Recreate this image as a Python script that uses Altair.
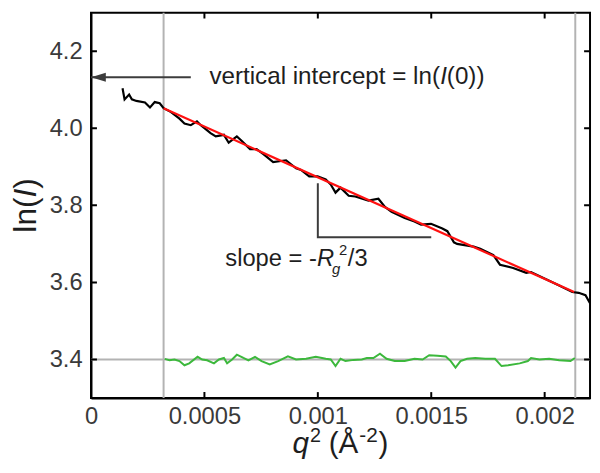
import altair as alt
import pandas as pd

FONT = "Liberation Sans"
TEXT_COLOR = "#1e1e1e"
ANNOT_COLOR = "#3c3c3c"

X_DOMAIN = [0, 0.0022]
Y_DOMAIN = [3.3, 4.3]
X_TICKS = [0, 0.0005, 0.001, 0.0015, 0.002]
Y_TICKS = [3.4, 3.6, 3.8, 4.0, 4.2]

BLACK_X = [0.000139, 0.000148, 0.000168, 0.000180, 0.000200, 0.000238, 0.000260, 0.000281,
           0.000303, 0.000320, 0.000353, 0.000390, 0.000412, 0.000440, 0.000467, 0.000484,
           0.000527, 0.000550, 0.000586, 0.000607, 0.000643, 0.000665, 0.000701, 0.000730,
           0.000760, 0.000803, 0.000860, 0.000904, 0.000926, 0.000962, 0.000999, 0.001035,
           0.001057, 0.001078, 0.001100, 0.001136, 0.001165, 0.001223, 0.001267, 0.001296,
           0.001325, 0.001383, 0.001426, 0.001455, 0.001499, 0.001549, 0.001571, 0.001600,
           0.001614, 0.001687, 0.001716, 0.001774, 0.001803, 0.001861, 0.001919, 0.001940,
           0.002006, 0.002064, 0.002122, 0.002150, 0.002180, 0.002200]
BLACK_Y = [4.104, 4.075, 4.0875, 4.075, 4.071, 4.067, 4.054, 4.068,
           4.065, 4.052, 4.042, 4.025, 4.0125, 4.008, 4.018, 4.008,
           3.9875, 3.979, 3.983, 3.9625, 3.979, 3.967, 3.946, 3.946,
           3.933, 3.9125, 3.917, 3.896, 3.892, 3.875, 3.875, 3.867,
           3.854, 3.833, 3.846, 3.825, 3.823, 3.8125, 3.817, 3.796,
           3.783, 3.767, 3.758, 3.750, 3.752, 3.740, 3.733, 3.704,
           3.700, 3.693, 3.6875, 3.671, 3.646, 3.6375, 3.625, 3.627,
           3.608, 3.592, 3.575, 3.573, 3.567, 3.546]

FIT_X = [0.00032, 0.00213]
FIT_Y = [4.052, 3.575]

GREEN_X = [0.000325, 0.000346, 0.000368, 0.000390, 0.000412, 0.000433, 0.000470, 0.000490,
           0.000512, 0.000542, 0.000564, 0.000586, 0.000600, 0.000622, 0.000643, 0.000672,
           0.000694, 0.000723, 0.000752, 0.000788, 0.000825, 0.000868, 0.000904, 0.000948,
           0.000991, 0.001035, 0.001057, 0.001078, 0.001100, 0.001122, 0.001158, 0.001194,
           0.001216, 0.001245, 0.001274, 0.001303, 0.001339, 0.001383, 0.001426, 0.001462,
           0.001491, 0.001527, 0.001564, 0.001586, 0.001607, 0.001629, 0.001658, 0.001694,
           0.001738, 0.001781, 0.001810, 0.001839, 0.001890, 0.001926, 0.001940, 0.001977,
           0.002020, 0.002064, 0.002114, 0.002133]
GREEN_Y = [3.4017, 3.398, 3.400, 3.396, 3.385, 3.390, 3.407, 3.400,
           3.398, 3.390, 3.400, 3.404, 3.390, 3.400, 3.4125, 3.404,
           3.398, 3.407, 3.396, 3.3875, 3.396, 3.408, 3.400, 3.402,
           3.407, 3.402, 3.400, 3.383, 3.402, 3.396, 3.399, 3.400,
           3.404, 3.404, 3.415, 3.402, 3.396, 3.396, 3.402, 3.400,
           3.411, 3.410, 3.408, 3.396, 3.379, 3.396, 3.402, 3.404,
           3.402, 3.402, 3.383, 3.385, 3.390, 3.396, 3.404, 3.400,
           3.402, 3.398, 3.396, 3.404]

GUIDE_X = [0.00032, 0.002135]
GUIDE_Y = [3.4]
ARROW_X = [0.0, 0.00044]
ARROW_Y = [4.1325, 4.1325]
TRI_X = [0.001, 0.001, 0.0015]
TRI_Y = [3.8575, 3.717, 3.717]
INTERCEPT_LABEL_XY = [0.000522, 4.1325]
SLOPE_LABEL_XY = [0.000592, 3.6425]

W, H = 505, 390

xscale = alt.Scale(domain=X_DOMAIN, nice=False, zero=False)
yscale = alt.Scale(domain=Y_DOMAIN, nice=False, zero=False)
xaxis = alt.Axis(values=X_TICKS, format=".4~f", title=None, grid=False, ticks=False, tickSize=0,
                 labelFontSize=24, labelPadding=7, labelColor="#3a3a3a", labelFont=FONT,
                 domainColor="black", domainWidth=2, labelFlush=False, labelOverlap=False)
yaxis = alt.Axis(values=Y_TICKS, format=".1f", title=None, grid=False, ticks=False, tickSize=0,
                 labelFontSize=24, labelPadding=9, labelColor="#3a3a3a", labelFont=FONT,
                 domainColor="black", domainWidth=2, labelFlush=False, labelOverlap=False)


def X(f):
    return alt.X(f, type="quantitative", scale=xscale, axis=xaxis)


def Y(f):
    return alt.Y(f, type="quantitative", scale=yscale, axis=yaxis)


layers = []

# gray guide lines
layers.append(alt.Chart(pd.DataFrame({"x": GUIDE_X})).mark_rule(color="#b3b3b3", strokeWidth=2)
              .encode(x=X("x")))
layers.append(alt.Chart(pd.DataFrame({"y": GUIDE_Y})).mark_rule(color="#b3b3b3", strokeWidth=2)
              .encode(y=Y("y")))

# data
layers.append(alt.Chart(pd.DataFrame({"x": BLACK_X, "y": BLACK_Y})).mark_line(
    color="black", strokeWidth=2.2, clip=True).encode(x=X("x"), y=Y("y")))
layers.append(alt.Chart(pd.DataFrame({"x": FIT_X, "y": FIT_Y})).mark_line(
    color="#ff1010", strokeWidth=2.2, clip=True).encode(x=X("x"), y=Y("y")))
layers.append(alt.Chart(pd.DataFrame({"x": GREEN_X, "y": GREEN_Y})).mark_line(
    color="#3cb83c", strokeWidth=2, clip=True).encode(x=X("x"), y=Y("y")))

# arrow
layers.append(alt.Chart(pd.DataFrame({"x": ARROW_X, "y": ARROW_Y})).mark_line(
    color=ANNOT_COLOR, strokeWidth=2).encode(x=X("x"), y=Y("y")))
layers.append(alt.Chart(pd.DataFrame({"x": ARROW_X[:1], "y": ARROW_Y[:1]})).mark_point(
    shape="M0,0 L2,-0.6 L2,0.6 Z", size=225, filled=True, opacity=1, color=ANNOT_COLOR,
    strokeWidth=0).encode(x=X("x"), y=Y("y")))

# slope triangle
layers.append(alt.Chart(pd.DataFrame({"x": TRI_X, "y": TRI_Y, "i": list(range(len(TRI_X)))}))
              .mark_line(color=ANNOT_COLOR, strokeWidth=2)
              .encode(x=X("x"), y=Y("y"), order=alt.Order("i:Q")))


def txt(anchor, s, dx=0, dy=0, size=24.5, italic=False, baseline="alphabetic"):
    df = pd.DataFrame({"x": [anchor[0]], "y": [anchor[1]]})
    return alt.Chart(df).mark_text(
        text=s, align="left", baseline=baseline, dx=dx, dy=dy, fontSize=size, font=FONT,
        fontStyle="italic" if italic else "normal", color=TEXT_COLOR
    ).encode(x=X("x"), y=Y("y"))


def ptxt(px, py, s, dx=0, dy=0, size=30, italic=False, angle=0):
    return alt.Chart(pd.DataFrame({"a": [0]})).mark_text(
        text=s, align="left", baseline="alphabetic", dx=dx, dy=dy, fontSize=size, font=FONT,
        fontStyle="italic" if italic else "normal", color=TEXT_COLOR, angle=angle
    ).encode(x=alt.value(px), y=alt.value(py))


# intercept label
layers.append(txt(INTERCEPT_LABEL_XY, "vertical intercept = ln(", baseline="middle"))
layers.append(txt(INTERCEPT_LABEL_XY, "I", dx=233.5, italic=True, baseline="middle"))
layers.append(txt(INTERCEPT_LABEL_XY, "(0))", dx=240.3, baseline="middle"))

# slope label
layers.append(txt(SLOPE_LABEL_XY, "slope = -", size=24))
layers.append(txt(SLOPE_LABEL_XY, "R", dx=92.7, size=24, italic=True))
layers.append(txt(SLOPE_LABEL_XY, "g", dx=108, dy=8, size=15, italic=True))
layers.append(txt(SLOPE_LABEL_XY, "2", dx=115, dy=-11, size=15))
layers.append(txt(SLOPE_LABEL_XY, "/3", dx=124, size=24))

# inward tick marks on all four sides
tx = X_TICKS[1:]
layers.append(alt.Chart(pd.DataFrame({
    "x": tx + tx, "y": [Y_DOMAIN[0]] * len(tx) + [Y_DOMAIN[1]] * len(tx)
})).mark_tick(orient="vertical", size=12, thickness=2, color="black", opacity=1, clip=True)
    .encode(x=X("x"), y=Y("y")))
layers.append(alt.Chart(pd.DataFrame({
    "y": Y_TICKS + Y_TICKS, "x": [X_DOMAIN[0]] * len(Y_TICKS) + [X_DOMAIN[1]] * len(Y_TICKS)
})).mark_tick(orient="horizontal", size=12, thickness=2, color="black", opacity=1, clip=True)
    .encode(x=X("x"), y=Y("y")))

# axis titles (mixed italic)
ty0 = H / 2 + 27.6
layers.append(ptxt(-56, ty0, "ln(", size=32, angle=270))
layers.append(ptxt(-56, ty0, "I", dx=35.6, size=32, italic=True, angle=270))
layers.append(ptxt(-56, ty0, ")", dx=44.5, size=32, angle=270))

layers.append(ptxt(204, 446, "q", size=30, italic=True))
layers.append(ptxt(204, 446, "2", dx=17.5, dy=-12, size=20))
layers.append(ptxt(204, 446, "(Å", dx=36.5, size=30))
layers.append(ptxt(204, 446, "-2", dx=67.5, dy=-12, size=21))
layers.append(ptxt(204, 446, ")", dx=87, size=30))

chart = alt.layer(*layers).properties(
    width=W, height=H,
    padding={"left": 84, "top": 2, "right": 2, "bottom": 62},
    autosize=alt.AutoSizeParams(type="none"),
    background="white",
).configure_view(stroke="black", strokeWidth=2)

chart.save("out.html", embed_options={"renderer": "svg", "actions": False})
